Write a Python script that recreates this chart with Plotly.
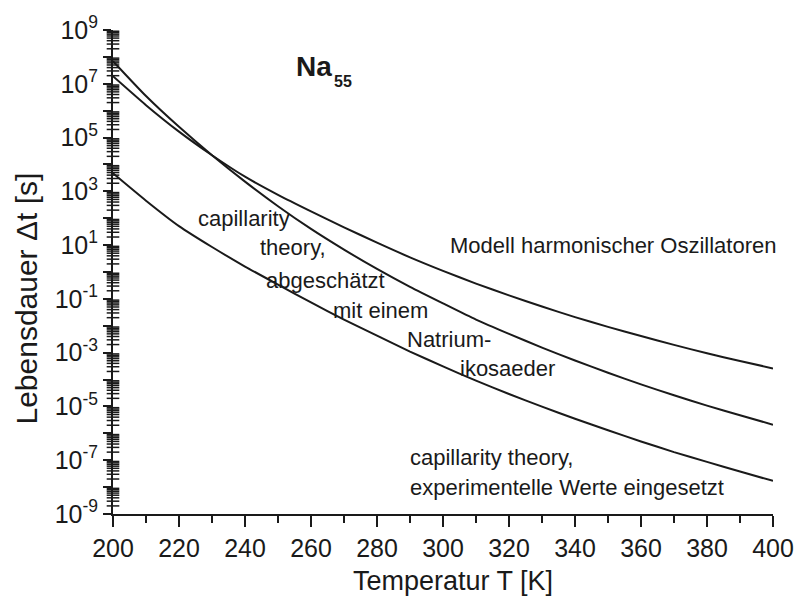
import plotly.graph_objects as go

# Temperature grid (K)
temperature = [200, 210, 220, 230, 240, 250, 260, 270, 280, 290, 300,
               310, 320, 330, 340, 350, 360, 370, 380, 390, 400]

# Lifetime (s): harmonic oscillator model
tau_harmonic = [1.9e7, 1.6e6, 1.66e5, 2.2e4, 3.5e3, 7.4e2, 1.8e2, 46, 12.3, 3.5, 1.1,
                0.37, 0.135, 0.052, 0.021, 9.1e-3, 4.2e-3, 1.95e-3, 9.5e-4, 4.9e-4, 2.6e-4]

# Lifetime (s): capillarity theory, estimated with a sodium icosahedron
tau_icosaeder = [6.9e7, 3.5e6, 2.5e5, 2.2e4, 2.3e3, 2.8e2, 40, 6.8, 1.3, 0.28, 6.8e-2,
                 1.7e-2, 5.0e-3, 1.55e-3, 5.1e-4, 1.8e-4, 6.6e-5, 2.6e-5, 1.07e-5, 4.7e-6, 2.1e-6]

# Lifetime (s): capillarity theory with experimental values
tau_experiment = [4.7e3, 4.5e2, 51, 8.5, 1.6, 0.34, 7.4e-2, 1.7e-2, 4.3e-3, 1.1e-3, 3.1e-4,
                  9.1e-5, 2.9e-5, 9.8e-6, 3.5e-6, 1.3e-6, 5.0e-7, 2.0e-7, 8.7e-8, 3.8e-8, 1.7e-8]

y_exponents = list(range(-9, 10))
y_label_exponents = [9, 7, 5, 3, 1, -1, -3, -5, -7, -9]
x_ticks = [200, 220, 240, 260, 280, 300, 320, 340, 360, 380, 400]

FONT = "Liberation Sans, Arial, Helvetica, sans-serif"
INK = "#1a1a1a"

W, H = 806, 605
L, R, T, B = 113, 23, 25, 91
PW, PH = W - L - R, H - T - B


def px(x):
    return (x - L) / PW


def py(y):
    return (H - B - y) / PH


fig = go.Figure()
for series in (tau_harmonic, tau_icosaeder, tau_experiment):
    fig.add_trace(go.Scatter(
        x=temperature, y=series, mode="lines",
        line=dict(color=INK, width=2, shape="spline", smoothing=0.6),
        showlegend=False, hoverinfo="skip",
    ))

# minor ticks of the log scale (2..9 within each decade), drawn as short dashes
# centred on the y axis line (points must stay inside the x range to be shown)
y_minor = [m * 10.0 ** e for e in range(-9, 9) for m in range(2, 10)]
fig.add_trace(go.Scatter(
    x=[x_ticks[0]] * len(y_minor), y=y_minor, mode="markers",
    marker=dict(symbol="line-ew", size=9, color=INK, line=dict(width=1.5, color=INK)),
    cliponaxis=False, showlegend=False, hoverinfo="skip",
))

y_tickvals = [10.0 ** e for e in y_exponents]
y_ticktext = [f"10<sup>{e}</sup>" if e in y_label_exponents else "" for e in y_exponents]

fig.update_layout(
    xaxis=dict(
        range=[200, 400], tickvals=x_ticks, ticktext=[str(v) for v in x_ticks],
        showgrid=False, zeroline=False, showline=True, linecolor=INK, linewidth=2,
        ticks="outside", ticklen=11, tickwidth=2, tickcolor=INK,
        minor=dict(tickvals=[v + 10 for v in x_ticks[:-1]], ticks="outside", ticklen=7,
                   tickwidth=1.5, tickcolor=INK, showgrid=False),
        tickfont=dict(family=FONT, size=25, color=INK),
    ),
    yaxis=dict(
        type="log", range=[-9, 9], tickvals=y_tickvals, ticktext=y_ticktext,
        showgrid=False, zeroline=False, showline=True, linecolor=INK, linewidth=2,
        ticks="outside", ticklen=8, tickwidth=2, tickcolor=INK,
        tickfont=dict(family=FONT, size=25, color=INK),
    ),
)

annotations = [
    dict(text="capillarity", x=px(197), y=py(215), xanchor="left"),
    dict(text="theory,", x=px(260), y=py(245), xanchor="left"),
    dict(text="abgeschätzt", x=px(266), y=py(278), xanchor="left"),
    dict(text="mit einem", x=px(334), y=py(308), xanchor="left"),
    dict(text="Natrium-", x=px(409), y=py(338), xanchor="left"),
    dict(text="ikosaeder", x=px(463), y=py(367), xanchor="left"),
    dict(text="Modell harmonischer Oszillatoren", x=px(453), y=py(243), xanchor="left"),
    dict(text="capillarity theory,", x=px(412), y=py(457), xanchor="left"),
    dict(text="experimentelle Werte eingesetzt", x=px(412), y=py(487), xanchor="left"),
]
for a in annotations:
    fig.add_annotation(xref="paper", yref="paper", yanchor="middle", showarrow=False,
                       font=dict(family=FONT, size=22, color=INK), **a)

fig.add_annotation(text="<b>Na</b>", xref="paper", yref="paper", x=px(317), y=py(62),
                   xanchor="center", yanchor="middle", showarrow=False,
                   font=dict(family=FONT, size=28, color=INK))
fig.add_annotation(text="<b>55</b>", xref="paper", yref="paper", x=px(346), y=py(77),
                   xanchor="center", yanchor="middle", showarrow=False,
                   font=dict(family=FONT, size=16, color=INK))

fig.add_annotation(text="Temperatur T [K]", xref="paper", yref="paper",
                   x=px(458), y=py(582), xanchor="center", yanchor="middle",
                   showarrow=False, font=dict(family=FONT, size=27, color=INK))
fig.add_annotation(text="Lebensdauer \u0394t [s]", xref="paper", yref="paper",
                   x=px(25), y=py(296), xanchor="center", yanchor="middle", textangle=-90,
                   showarrow=False, font=dict(family=FONT, size=30, color=INK))

fig.update_layout(
    width=W, height=H, margin=dict(l=L, r=R, t=T, b=B),
    paper_bgcolor="white", plot_bgcolor="white",
)

fig.write_html("out.html")
